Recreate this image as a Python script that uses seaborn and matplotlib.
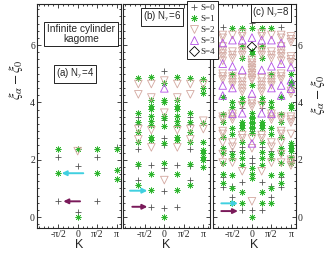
import numpy as np
import pandas as pd
import matplotlib
matplotlib.use("Agg")
import matplotlib.pyplot as plt
import seaborn as sns
from matplotlib.lines import Line2D
from matplotlib.ticker import MultipleLocator

sns.set_theme(style="ticks")
plt.rcParams["font.family"] = ["Liberation Sans", "DejaVu Sans"]
plt.rcParams["mathtext.fontset"] = "stix"

# spectra: {|K|/pi : levels}, mirrored to -K (except K = pi)
# panel (a) Ny=4
a_s0 = {0: [1.77, 0.17], 0.5: [2.09, 0.55], 1: [2.46]}
a_s1 = {0: [2.38, 0.0], 0.5: [2.38, 1.53], 1: [2.38, 1.63, 1.34]}
a_s2 = {0: [2.30]}
a_s3 = {}
a_s4 = {}

# panel (b) Ny=6
b_s0 = {0: [5.10, 3.38, 2.77, 2.51, 1.70, 0.92, 0.33],
        1/3: [1.81, 0.36],
        2/3: [3.50, 3.24, 2.38, 1.78, 1.29]}
b_s1 = {0: [4.66, 4.08, 4.00, 3.52, 3.44, 3.17, 2.57, 1.90, 0.0],
        1/3: [4.87, 4.08, 3.87, 3.77, 3.52, 3.36, 3.21, 2.80, 2.69, 1.52, 0.94],
        2/3: [4.84, 3.62, 3.33, 2.98, 2.63, 1.85, 1.12],
        1: [4.80, 4.49, 4.31, 3.27, 2.63, 2.34, 2.22, 2.10, 1.99, 1.76]}
b_s2 = {0: [4.76, 3.64, 1.29],
        1/3: [4.64, 4.17, 3.03, 2.43],
        2/3: [4.64, 4.28, 3.07, 2.71],
        1: [4.64, 3.36, 3.07]}
b_s3 = {0: [4.49]}
b_s4 = {}

# panel (c) Ny=8
c_s0 = {0: [6.76, 3.00, 2.05, 1.87, 0.24],
        0.25: [3.80, 2.45, 1.23, 0.24],
        0.5: [2.30, 1.10, 0.71],
        0.75: [6.62, 1.40, 1.05]}
c_s1 = {0: [6.58, 5.80, 5.67, 4.60, 3.62, 3.50, 3.44, 3.33, 3.27, 3.15, 3.09, 2.92,
            1.70, 1.52, 1.35, 0.0],
        0.25: [6.58, 5.95, 5.55, 4.14, 4.00, 3.33, 3.20, 3.09, 2.63, 2.28, 2.05, 1.81,
               0.88, 0.48],
        0.5: [6.58, 5.00, 4.00, 3.85, 3.10, 2.90, 2.20, 2.05, 1.47, 1.00, 0.50],
        0.75: [4.20, 3.60, 3.30, 2.80, 2.40, 2.25, 1.90, 1.50, 1.20],
        1: [5.00, 4.70, 4.60, 3.90, 3.80, 2.60, 2.50, 2.40, 2.30, 2.10, 1.90]}
c_s2 = {0: [5.48, 5.38, 5.30, 5.20, 5.13, 5.02, 4.95, 4.85, 4.78, 4.05, 3.95, 3.85,
            2.74, 2.40, 0.55],
        0.25: [6.40, 6.30, 5.88, 5.78, 5.65, 4.84, 4.72, 4.60, 4.48, 4.37, 3.90, 2.86,
               2.75, 1.60],
        0.5: [6.35, 5.77, 5.65, 5.53, 4.90, 4.80, 4.70, 4.60, 3.60, 3.50, 3.40, 2.60,
              2.45, 1.90],
        0.75: [6.35, 6.25, 5.95, 5.80, 5.70, 5.60, 5.45, 5.00, 4.90, 4.80, 3.50, 3.40,
               3.00, 2.90, 2.60, 2.20, 1.90],
        1: [6.30, 6.20, 6.10, 5.60, 5.50, 5.40, 4.40, 4.30, 3.50, 3.40, 3.30, 2.90,
            2.00, 1.90, 1.80]}
c_s3 = {0: [6.26, 4.31, 2.57],
        0.25: [6.17, 5.13, 3.62],
        0.5: [6.17, 5.26, 4.50, 3.60],
        0.75: [6.07, 5.35, 4.59, 4.24],
        1: [5.23, 4.77, 4.48]}
c_s4 = {0: [5.94]}

spins = ["S=0", "S=1", "S=2", "S=3", "S=4"]
colors = ["#555555", "#2db52d", "#d3a8a0", "#b350e6", "#000000"]
markers = ["+", (8, 2, 0), "v", "^", "D"]
sizes = [18, 16, 30, 30, 22]
widths = [0.6, 0.5, 0.6, 0.6, 0.6]
filled = [False, False, True, True, True]
draw_order = [2, 0, 1, 3, 4]


def to_frame(levels):
    rows = []
    for kk, es in levels.items():
        signs = [1] if kk in (0, 1) else [-1, 1]
        for sg in signs:
            for e in es:
                rows.append((sg * kk * np.pi, e))
    return pd.DataFrame(rows, columns=["K", "E"])


W, H = 332, 257
fig = plt.figure(figsize=(W / 100, H / 100), dpi=100)
boxes = [(37, 121), (123, 210), (213, 296)]
xlims = [(-3.28, 3.49), (-3.33, 3.68), (-3.14, 3.55)]
panels = [[a_s0, a_s1, a_s2, a_s3, a_s4],
          [b_s0, b_s1, b_s2, b_s3, b_s4],
          [c_s0, c_s1, c_s2, c_s3, c_s4]]
axes = []
for i, (x0, x1) in enumerate(boxes):
    ax = fig.add_axes([x0 / W, 1 - 228 / H, (x1 - x0) / W, 224 / H])
    for j in draw_order:
        df = to_frame(panels[i][j])
        if df.empty:
            continue
        kw = dict(marker=markers[j], s=sizes[j], linewidth=widths[j], legend=False,
                  ax=ax, zorder=3 + j)
        if filled[j]:
            kw.update(color=colors[j], facecolor="none", edgecolor=colors[j])
        else:
            kw.update(color=colors[j])
        sns.scatterplot(data=df, x="K", y="E", **kw)
    ax.set_xlim(*xlims[i])
    ax.set_ylim(-0.38, 7.43)
    ax.set_xticks([-np.pi / 2, 0, np.pi / 2, np.pi])
    ax.set_xticklabels(["-π/2", "0", "π/2", "π"], family="Liberation Serif", fontsize=7)
    ax.xaxis.set_minor_locator(MultipleLocator(np.pi / 8))
    ax.set_yticks([0, 2, 4, 6])
    ax.set_yticklabels(["0", "2", "4", "6"], family="Liberation Serif", fontsize=7)
    ax.yaxis.set_minor_locator(MultipleLocator(0.25))
    ax.tick_params(which="both", direction="in", top=True, right=True, width=0.6,
                   pad=1.5, labelleft=(i == 0), labelright=(i == 2))
    ax.tick_params(which="major", length=3)
    ax.tick_params(which="minor", length=1.6)
    for sp in ax.spines.values():
        sp.set_linewidth(0.8)
    ax.set_xlabel("K", fontsize=9, labelpad=0)
    ax.set_ylabel("")
    axes.append(ax)

ax_a, ax_b, ax_c = axes

# arrows
cyan, purple = "#40d0e0", "#7a1a5a"
arw = lambda c: dict(arrowstyle="-|>", color=c, lw=1.4, mutation_scale=7, shrinkA=0, shrinkB=0)
ax_a.annotate("", xy=(-1.29, 1.53), xytext=(0.45, 1.53), arrowprops=arw(cyan), zorder=10)
ax_a.annotate("", xy=(-1.16, 0.55), xytext=(0.19, 0.55), arrowprops=arw(purple), zorder=10)
ax_b.annotate("", xy=(-1.37, 0.92), xytext=(-2.76, 0.92), arrowprops=arw(cyan), zorder=10)
ax_b.annotate("", xy=(-1.37, 0.36), xytext=(-2.58, 0.36), arrowprops=arw(purple), zorder=10)
ax_c.annotate("", xy=(-1.13, 0.48), xytext=(-2.47, 0.48), arrowprops=arw(cyan), zorder=10)
ax_c.annotate("", xy=(-1.13, 0.21), xytext=(-2.47, 0.21), arrowprops=arw(purple), zorder=10)

# labels
box = dict(boxstyle="square,pad=0.15", fc="white", ec="black", lw=0.6)
fig.text(81 / W, 1 - 34 / H, "Infinite cylinder\nkagome", ha="center", va="center",
         fontsize=7.3, linespacing=0.95,
         bbox=dict(boxstyle="square,pad=0.25", fc="white", ec="black", lw=0.6))
fig.text(75 / W, 1 - 74 / H, "(a) N$_y$=4", ha="center", va="center", fontsize=7, bbox=box)
fig.text(162 / W, 1 - 17 / H, "(b) N$_y$=6", ha="center", va="center", fontsize=7, bbox=box)
fig.text(271 / W, 1 - 13 / H, "(c) N$_y$=8", ha="center", va="center", fontsize=7, bbox=box)

fig.text(16 / W, 1 - 80 / H, r"$\xi_\alpha - \xi_0$", rotation=90, ha="center",
         va="center", fontsize=10.5)
fig.text(318 / W, 1 - 95 / H, r"$\xi_\alpha - \xi_0$", rotation=90, ha="center",
         va="center", fontsize=10.5)

handles = []
for j in range(5):
    if filled[j]:
        h = Line2D([], [], ls="", marker=markers[j], ms=5.5, mfc="none",
                   mec=colors[j], mew=0.6)
    else:
        h = Line2D([], [], ls="", marker=markers[j], ms=5, color=colors[j], mew=widths[j])
    handles.append(h)
leg = fig.legend(handles, spins, loc="upper left", bbox_to_anchor=(187 / W, 1 - 1 / H),
                 prop={"family": "Liberation Serif", "size": 6.5}, frameon=True,
                 fancybox=False, framealpha=1, edgecolor="black", handlelength=0.9,
                 handletextpad=0.3, borderpad=0.3, labelspacing=0.3, borderaxespad=0)
leg.get_frame().set_linewidth(0.6)
leg.set_zorder(20)

fig.savefig("out.png", dpi=100)
